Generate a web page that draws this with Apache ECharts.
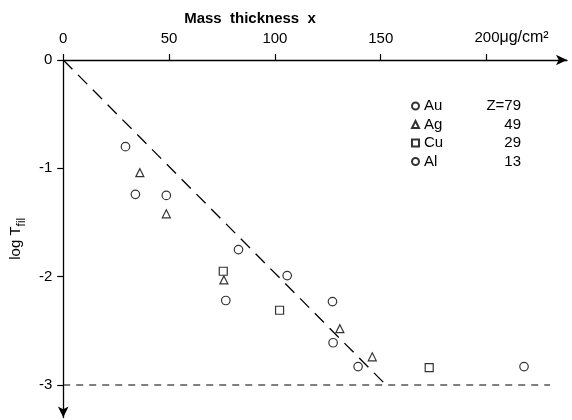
<!DOCTYPE html>
<html><head><meta charset="utf-8">
<script src="https://cdn.jsdelivr.net/npm/echarts@6/dist/echarts.min.js"></script>
<style>html,body{margin:0;padding:0;background:#fff}#c{width:572px;height:420px}</style>
</head><body><div id="c"></div>
<script>
// tick labels
const xTicks = [0, 50, 100, 150, 200];
const yTicks = [0, -1, -2, -3];
// Au / Al (circles)
const circleX = [29.4, 34.1, 48.7, 82.8, 105.8, 76.8, 127.2, 127.5, 139.3, 217.7];
const circleY = [-0.80, -1.24, -1.25, -1.75, -1.99, -2.22, -2.23, -2.61, -2.83, -2.83];
// Ag (triangles)
const triX = [36.2, 48.7, 75.9, 130.7, 146.0];
const triY = [-1.04, -1.42, -2.03, -2.48, -2.74];
// Cu (squares)
const sqX = [75.6, 102.2, 172.9];
const sqY = [-1.95, -2.31, -2.84];
// dashed fit line and limit line
const fitX = [0, 152.5];
const fitY = [0, -3];
const limitX = [0, 230];
const limitY = [-3, -3];
// legend
const legendNames = ['Au', 'Ag', 'Cu', 'Al'];
const legendZ = ['Z=79', '49', '29', '13'];
const unitText = 'μg/cm²';

const FONT = 'Liberation Sans';
const zip = (a, b) => a.map((v, i) => [v, b[i]]);
const zMap = {};
legendNames.forEach((n, i) => zMap[n] = legendZ[i]);

// measure unit width so that "200" stays centred on its tick
const ctx = document.createElement('canvas').getContext('2d');
ctx.font = '16px "' + FONT + '"';
const unitW = Math.ceil(ctx.measureText(unitText).width);

const chart = echarts.init(document.getElementById('c'), null, {renderer: 'canvas'});
const markStyle = {color: '#fff', borderColor: '#000', borderWidth: 1.2};
chart.setOption({
  backgroundColor: '#fff',
  animation: false,
  textStyle: {fontFamily: FONT, color: '#000'},
  grid: {left: 59, top: 60, width: 508, height: 357.5, containLabel: false},
  title: {
    text: 'Mass  thickness  x', left: 245, top: 6, textAlign: 'center',
    textStyle: {fontFamily: FONT, fontSize: 15, fontWeight: 'bold', color: '#000'}
  },
  legend: {
    orient: 'vertical', left: 406, top: 93,
    itemWidth: 7, itemHeight: 7, itemGap: 2.5,
    data: legendNames,
    formatter: n => '{e|' + n + '}{z|' + zMap[n] + '}',
    textStyle: {
      fontFamily: FONT, fontSize: 15, color: '#000', lineHeight: 16,
      rich: {
        e: {fontFamily: FONT, fontSize: 15, width: 40, color: '#000'},
        z: {fontFamily: FONT, fontSize: 15, width: 57, align: 'right', color: '#000'}
      }
    }
  },
  xAxis: {
    type: 'value', position: 'top', min: 0, max: 238,
    axisLine: {show: true, onZero: false, symbol: ['none', 'arrow'], symbolSize: [8, 11],
      lineStyle: {color: '#000', width: 1.3}},
    axisTick: {show: true, inside: false, length: 6, customValues: xTicks, lineStyle: {color: '#000', width: 1.2}},
    axisLabel: {
      customValues: xTicks, margin: 14, fontFamily: FONT, fontSize: 15, color: '#000',
      formatter: v => v === 200 ? '{p|}{v|200}{u|' + unitText + '}' : String(v),
      rich: {
        p: {width: unitW},
        v: {fontFamily: FONT, fontSize: 15, color: '#000'},
        u: {fontFamily: FONT, fontSize: 16, color: '#000'}
      }
    },
    splitLine: {show: false}
  },
  yAxis: {
    type: 'value', min: -3.3, max: 0,
    axisLine: {show: true, onZero: false, symbol: ['arrow', 'none'], symbolSize: [8, 11],
      lineStyle: {color: '#000', width: 1.3}},
    axisTick: {show: true, inside: false, length: 6, customValues: yTicks, lineStyle: {color: '#000', width: 1.2}},
    axisLabel: {customValues: yTicks, margin: 11, fontFamily: FONT, fontSize: 15, color: '#000',
      formatter: v => String(v)},
    splitLine: {show: false},
    name: '{a|log T}{s|fil}', nameLocation: 'middle', nameRotate: 90, nameGap: 33,
    nameTextStyle: {
      rich: {
        a: {fontFamily: FONT, fontSize: 15, color: '#000', verticalAlign: 'top', lineHeight: 20},
        s: {fontFamily: FONT, fontSize: 12, color: '#000', verticalAlign: 'bottom', lineHeight: 14, padding: [8, 0, 0, 0]}
      }
    }
  },
  series: [
    {name: 'fit', type: 'line', data: zip(fitX, fitY), symbol: 'none', silent: true,
      lineStyle: {color: '#000', width: 1.3, type: [13, 8]}, z: 1},
    {name: 'limit', type: 'line', data: zip(limitX, limitY), symbol: 'none', silent: true,
      lineStyle: {color: '#000', width: 1.2, type: [7, 6]}, z: 1},
    {name: 'Au', type: 'scatter', data: zip(circleX, circleY), symbol: 'circle', symbolSize: 8.5,
      itemStyle: markStyle, z: 3},
    {name: 'Ag', type: 'scatter', data: zip(triX, triY), symbol: 'triangle', symbolSize: 8,
      itemStyle: markStyle, z: 3},
    {name: 'Cu', type: 'scatter', data: zip(sqX, sqY), symbol: 'rect', symbolSize: 8,
      itemStyle: markStyle, z: 3},
    {name: 'Al', type: 'scatter', data: [], symbol: 'circle', symbolSize: 8.5,
      itemStyle: markStyle, z: 3}
  ]
});
</script>
</body></html>
